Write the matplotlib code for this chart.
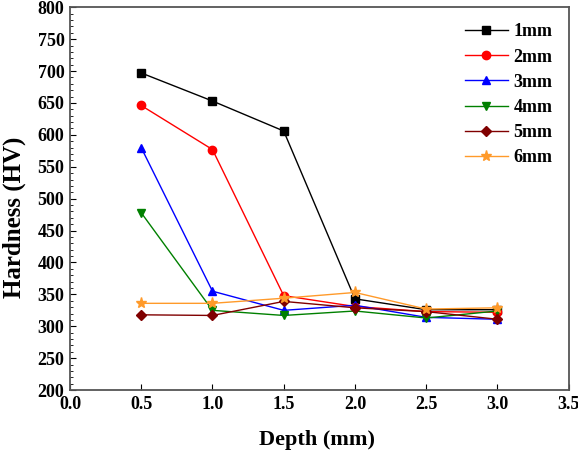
import matplotlib
matplotlib.use("Agg")
import matplotlib.pyplot as plt
from matplotlib.ticker import MultipleLocator

plt.rcParams['font.family'] = ['Liberation Serif', 'DejaVu Serif']
plt.rcParams['font.weight'] = 'bold'

# Data
depth = [0.5, 1.0, 1.5, 2.0, 2.5, 3.0]
hv_1mm = [697, 653, 606, 343, 326, 326]
hv_2mm = [646, 577, 348, 331, 323, 322]
hv_3mm = [580, 355, 325, 333, 314, 311]
hv_4mm = [478, 325, 317, 324, 313, 324]
hv_5mm = [318, 317, 339, 329, 323, 311]
hv_6mm = [336, 336, 344, 353, 327, 329]

series = [
    ("1mm", hv_1mm, "black", "s"),
    ("2mm", hv_2mm, "red", "o"),
    ("3mm", hv_3mm, "blue", "^"),
    ("4mm", hv_4mm, "green", "v"),
    ("5mm", hv_5mm, "#800000", "D"),
    ("6mm", hv_6mm, "#ff9a2a", "*"),
]

fig = plt.figure(figsize=(5.78, 4.51), dpi=100)
ax = fig.add_axes([0.121, 0.135, 0.863, 0.849])

for name, vals, col, mk in series:
    ms = 8 if mk == "*" else 6
    if mk == "D":
        ms = 5
    ax.plot(depth, vals, color=col, marker=mk, markersize=ms, linewidth=1, label=name)

ax.set_xlim(0, 3.5)
ax.set_ylim(200, 800)
ax.xaxis.set_major_locator(MultipleLocator(0.5))
ax.yaxis.set_major_locator(MultipleLocator(50))
ax.yaxis.set_minor_locator(MultipleLocator(10))
ax.xaxis.set_major_formatter(plt.FormatStrFormatter('%.1f'))
ax.tick_params(direction='in', which='both', top=False, right=False, labelsize=13, pad=4)
ax.tick_params(which='major', length=4.5)
ax.tick_params(which='minor', length=2.2)
for s in ax.spines.values():
    s.set_color('#555555')
    s.set_linewidth(1.3)

ax.set_xlabel("Depth (mm)", fontsize=16, fontweight='bold')
ax.set_ylabel("Hardness (HV)", fontsize=18, fontweight='bold')
ax.xaxis.set_label_coords(0.496, -0.104)
ax.yaxis.set_label_coords(-0.089, 0.452)

ax.legend(loc='upper right', frameon=False, fontsize=13, handlelength=2.4,
          handletextpad=0.3, labelspacing=0.45, borderaxespad=0.5)

fig.savefig("out.png", dpi=100)
